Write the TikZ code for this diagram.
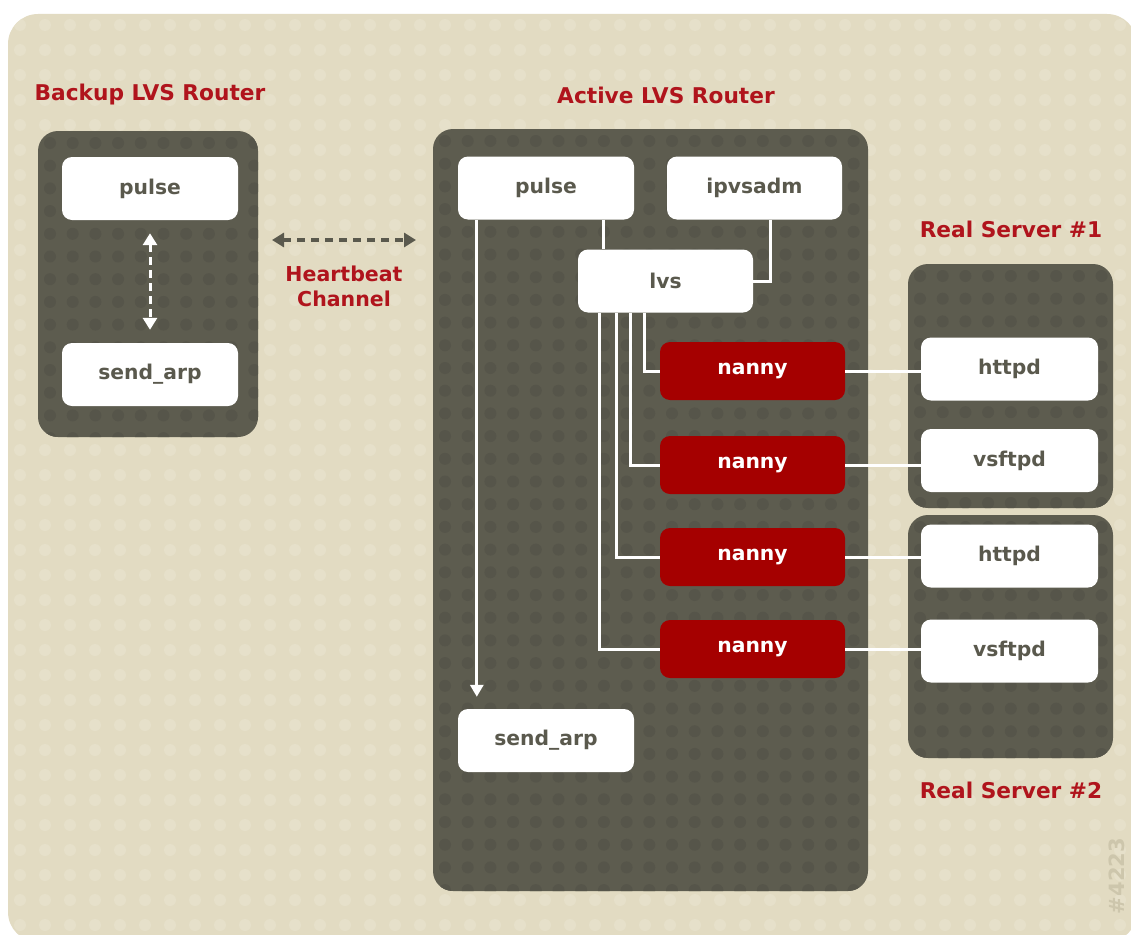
\documentclass[tikz,border=0pt]{standalone}
\usepackage{fontspec}
\setmainfont{DejaVu Sans}
\usetikzlibrary{arrows.meta,calc}
\definecolor{beige}{HTML}{E2DBC2}
\definecolor{beigedot}{HTML}{E6E0CA}
\definecolor{dark}{HTML}{5D5C4F}
\definecolor{darkdot}{HTML}{56554A}
\definecolor{rhred}{HTML}{A50000}
\definecolor{lblred}{HTML}{B0141C}
\definecolor{txtgray}{HTML}{5A594D}
\definecolor{idgray}{HTML}{CDC6AC}
\newcommand{\dkpanel}[4]{%
  \fill[dark, rounded corners=20] (#1,#2) rectangle (#3,#4);
  \begin{scope}
    \clip[rounded corners=20] (#1,#2) rectangle (#3,#4);
    \pgfmathtruncatemacro{\ni}{(#3-#1)/22.7}
    \pgfmathtruncatemacro{\nj}{(#4-#2)/22.7}
    \foreach \j in {0,...,\nj} {
      \fill[darkdot] \foreach \i in {0,...,\ni} {(#1+12+22.7*\i,#2+12+22.7*\j) circle (6)};
    }
  \end{scope}}
\begin{document}
\begin{tikzpicture}[x=1pt,y=-1pt,
  wbox/.style={fill=white, rounded corners=10, minimum width=176, minimum height=63, inner sep=0,
    text=txtgray, font=\bfseries\fontsize{20.3}{20}\selectfont},
  rbox/.style={fill=rhred, rounded corners=10, minimum width=185, minimum height=58, inner sep=0,
    text=white, font=\bfseries\fontsize{20.3}{20}\selectfont},
  lbl/.style={text=lblred, font=\bfseries\fontsize{21.7}{25}\selectfont, align=center},
  wline/.style={draw=white, line width=3},
  tip/.style={-{Triangle[length=12,width=13]}}
]
\useasboundingbox (0,0) rectangle (1131,934);
\clip (0,0) rectangle (1131,934);
% background
\fill[beige, rounded corners=30] (8,14) rectangle (1137,942);
\begin{scope}
  \clip[rounded corners=30] (8,14) rectangle (1137,942);
  \foreach \j in {0,...,37} {
    \fill[beigedot] \foreach \i in {0,...,45} {(20+25*\i,25+25*\j) circle (6)};
  }
\end{scope}
% panels
\dkpanel{38}{131}{258}{437}
\dkpanel{433}{129}{868}{891}
\dkpanel{908}{264}{1113}{508}
\dkpanel{908}{515}{1113}{758}
% labels
\node[lbl] (lblbackup) at (150,95) {Backup LVS Router};
\node[lbl] (lblactive) at (666,95) {Active LVS Router};
\node[lbl] (lblrs1) at (1011,229) {Real Server \#1};
\node[lbl] (lblrs2) at (1011,790) {Real Server \#2};
\node[lbl, font=\bfseries\fontsize{20.5}{25}\selectfont] (hbtext) at (344,286) {Heartbeat\\Channel};
\node[rotate=90, text=idgray, font=\bfseries\fontsize{21}{21}\selectfont] (imgid) at (1117,876) {\#4223};
% backup router
\node[wbox] (bpulse) at (150,188.5) {pulse};
\node[wbox] (bsend) at (150,374.5) {send\_arp};
\draw[wline, dash pattern=on 8 off 5, {Triangle[length=12,width=14]}-{Triangle[length=12,width=14]},
  shorten <=13, shorten >=13] (bpulse.south) -- (bsend.north);
% heartbeat
\coordinate (hbL) at (272,240);
\coordinate (hbR) at (416,240);
\draw[draw=txtgray, line width=3.4, dash pattern=on 8 off 6,
  {Triangle[length=12,width=14]}-{Triangle[length=12,width=14]}] (hbL) -- (hbR);
% active router
\node[wbox] (apulse) at (546,188) {pulse};
\node[wbox, minimum width=175] (ipvs) at (754.5,188) {ipvsadm};
\node[wbox, minimum width=175] (lvs) at (665.5,281) {lvs};
\node[wbox] (asend) at (546,740.5) {send\_arp};
\node[rbox] (n1) at (752.5,371) {nanny};
\node[rbox] (n2) at (752.5,465) {nanny};
\node[rbox] (n3) at (752.5,557) {nanny};
\node[rbox] (n4) at (752.5,649) {nanny};
% real servers
\node[wbox, minimum width=177] (h1) at (1009.5,369) {httpd};
\node[wbox, minimum width=177] (v1) at (1009.5,460.5) {vsftpd};
\node[wbox, minimum width=177] (h2) at (1009.5,556) {httpd};
\node[wbox, minimum width=177] (v2) at (1009.5,651) {vsftpd};
% connectors
\draw[wline, tip] ([xshift=19pt]apulse.south west) -- ([xshift=19pt,yshift=12pt]asend.north west);
\draw[wline] ([xshift=-31pt]apulse.south east) -- ([xshift=-31pt]apulse.south east |- lvs.north);
\draw[wline] ([xshift=16pt]ipvs.south) |- (lvs.east);
\draw[wline] ([xshift=67pt]lvs.south west) |- (n1.west);
\draw[wline] ([xshift=53pt]lvs.south west) |- (n2.west);
\draw[wline] ([xshift=39pt]lvs.south west) |- (n3.west);
\draw[wline] ([xshift=22pt]lvs.south west) |- (n4.west);
\draw[wline] (n1.east) -- (n1.east -| h1.west);
\draw[wline] (n2.east) -- (n2.east -| v1.west);
\draw[wline] (n3.east) -- (n3.east -| h2.west);
\draw[wline] (n4.east) -- (n4.east -| v2.west);
\end{tikzpicture}
\end{document}
